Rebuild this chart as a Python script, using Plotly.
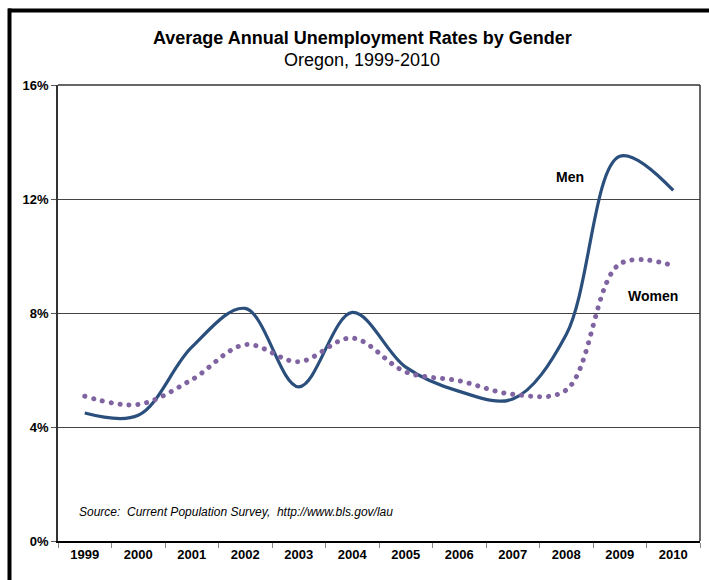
import plotly.graph_objects as go

years = ["1999", "2000", "2001", "2002", "2003", "2004", "2005", "2006", "2007", "2008", "2009", "2010"]
men = [4.49, 4.41, 6.8, 8.16, 5.41, 8.02, 6.1, 5.25, 4.98, 7.25, 13.5, 12.3]
women = [5.08, 4.79, 5.66, 6.89, 6.29, 7.12, 5.93, 5.62, 5.15, 5.3, 9.72, 9.66]
y_ticks = [0, 4, 8, 12, 16]
y_labels = ["0%", "4%", "8%", "12%", "16%"]

FONT = "Liberation Sans, Arial, sans-serif"

fig = go.Figure()
fig.add_trace(go.Scatter(
    x=years, y=men, mode="lines", name="Men",
    line=dict(color="#2B4F7C", width=3.2, shape="spline", smoothing=1.0),
))
fig.add_trace(go.Scatter(
    x=years, y=women, mode="lines", name="Women",
    line=dict(color="#8064A2", width=5, shape="spline", smoothing=1.0, dash="0.1px,8.9px"),
))

fig.update_layout(
    width=709, height=580,
    margin=dict(l=58, r=9, t=85, b=39),
    paper_bgcolor="white", plot_bgcolor="white",
    showlegend=False,
    font=dict(family=FONT, color="black"),
    xaxis=dict(
        type="category", range=[-0.5, 11.5],
        tickson="boundaries", ticks="outside", ticklen=5, tickcolor="#888",
        showgrid=False, showline=True, linecolor="black", linewidth=2,
        mirror=False, tickfont=dict(size=13, family=FONT, color="black", weight="bold"),
        zeroline=False,
    ),
    yaxis=dict(
        range=[0, 16], tickvals=y_ticks, ticktext=y_labels,
        ticks="outside", ticklen=5, tickcolor="#555",
        showgrid=True, gridcolor="#444", gridwidth=1,
        showline=True, linecolor="#333", linewidth=1.5,
        tickfont=dict(size=13, family=FONT, color="black", weight="bold"),
        zeroline=False,
    ),
    shapes=[
        dict(type="line", xref="paper", yref="paper", x0=0, x1=1, y0=1, y1=1,
             line=dict(color="#333", width=1.5)),
        dict(type="line", xref="paper", yref="paper", x0=1, x1=1, y0=0, y1=1,
             line=dict(color="#333", width=1.5)),
        dict(type="line", xref="paper", yref="paper",
             x0=(8 - 58) / 642, x1=(709 - 58) / 642, y0=(541 - 10.5) / 456, y1=(541 - 10.5) / 456,
             line=dict(color="black", width=4)),
        dict(type="line", xref="paper", yref="paper",
             x0=(9.5 - 58) / 642, x1=(9.5 - 58) / 642, y0=(541 - 8.5) / 456, y1=(541 - 585) / 456,
             line=dict(color="black", width=4)),
    ],
    annotations=[
        dict(text="<b>Average Annual Unemployment Rates by Gender</b>", xref="paper", yref="paper",
             x=(362 - 58) / 642, y=(541 - 38) / 456, showarrow=False,
             font=dict(size=18, family=FONT), xanchor="center", yanchor="middle"),
        dict(text="Oregon, 1999-2010", xref="paper", yref="paper",
             x=(362 - 58) / 642, y=(541 - 60) / 456, showarrow=False,
             font=dict(size=18, family=FONT), xanchor="center", yanchor="middle"),
        dict(text="<i>Source:  Current Population Survey,  http://www.bls.gov/lau</i>", xref="paper", yref="paper",
             x=(77 - 58) / 642, y=(541 - 512) / 456, showarrow=False,
             font=dict(size=12, family=FONT), xanchor="left", yanchor="middle"),
        dict(text="<b>Men</b>", xref="paper", yref="paper",
             x=(570 - 58) / 642, y=(541 - 177) / 456, showarrow=False,
             font=dict(size=14, family=FONT), xanchor="center", yanchor="middle"),
        dict(text="<b>Women</b>", xref="paper", yref="paper",
             x=(653 - 58) / 642, y=(541 - 296) / 456, showarrow=False,
             font=dict(size=14, family=FONT), xanchor="center", yanchor="middle"),
    ],
)

# Round the dash caps of the women series so its dots are circular, as in the reference.
post = """
(function(){
  var gd = document.getElementById('{plot_id}');
  function roundDots(){
    var traces = gd.querySelectorAll('.scatterlayer .trace');
    if (traces.length > 1) {
      traces[1].querySelectorAll('path.js-line').forEach(function(p){
        p.style.strokeLinecap = 'round';
      });
    }
  }
  roundDots();
  gd.on && gd.on('plotly_afterplot', roundDots);
})();
"""

fig.write_html("out.html", post_script=post)
